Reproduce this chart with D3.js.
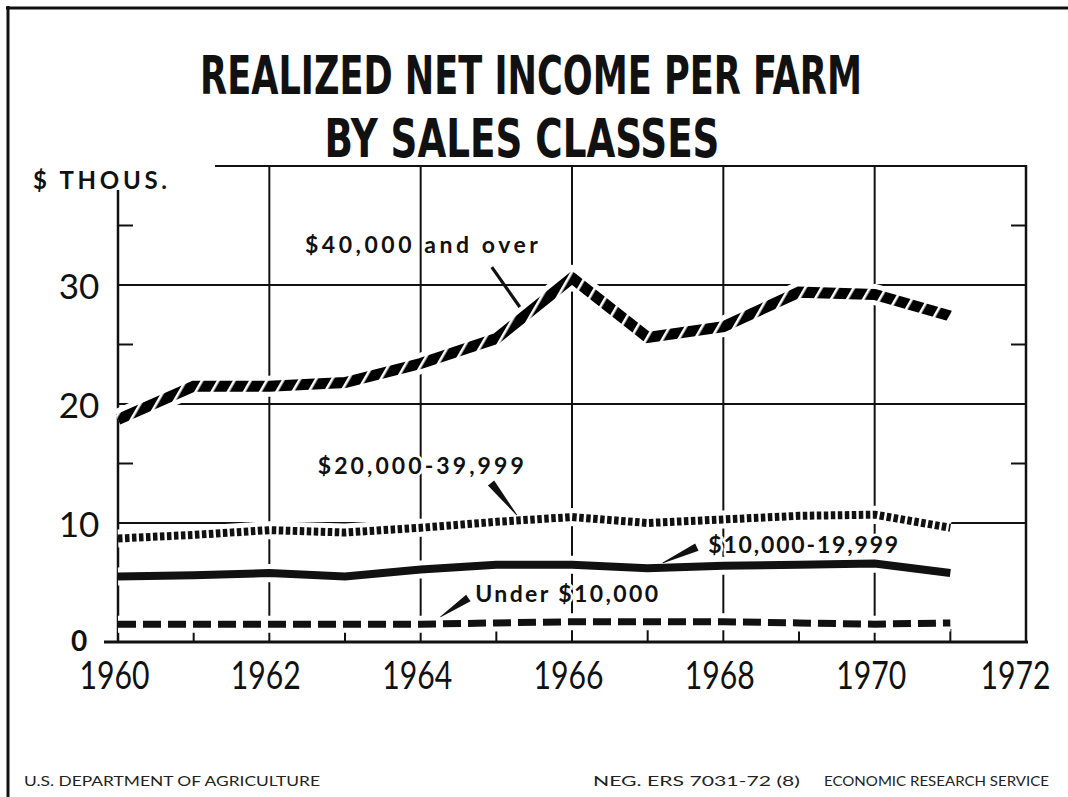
<!DOCTYPE html>
<html>
<head>
<meta charset="utf-8">
<script src="https://cdn.jsdelivr.net/npm/d3@7"></script>
<style>
  body { margin: 0; background: #fff; }
  svg { display: block; }
</style>
</head>
<body>
<div id="chart"></div>
<script>
// data ($ thousands per farm)
var years = [1960, 1961, 1962, 1963, 1964, 1965, 1966, 1967, 1968, 1969, 1970, 1971];
var over40 = [18.7, 21.5, 21.5, 21.8, 23.4, 25.5, 30.6, 25.6, 26.5, 29.4, 29.2, 27.4];
var from20to40 = [8.7, 9.0, 9.4, 9.2, 9.6, 10.1, 10.5, 10.0, 10.3, 10.6, 10.7, 9.6];
var from10to20 = [5.5, 5.6, 5.8, 5.5, 6.1, 6.5, 6.5, 6.2, 6.4, 6.5, 6.6, 5.8];
var under10 = [1.5, 1.5, 1.5, 1.5, 1.5, 1.6, 1.7, 1.7, 1.7, 1.6, 1.5, 1.6];

var yearTicks = [1960, 1962, 1964, 1966, 1968, 1970, 1972];
var oddYears = [1961, 1963, 1965, 1967, 1969, 1971];
var valueTicks = [0, 10, 20, 30];
var gridValues = [10, 20, 30];
var minorValues = [15, 25, 35];

var seriesNames = ["$40,000 and over", "$20,000-39,999", "$10,000-19,999", "Under $10,000"];
// label position and pointer (from, to) in data units
var labelYears = [1962.47, 1962.64, 1967.80, 1964.72];
var labelValues = [32.7, 14.1, 7.5, 3.36];
var pointerFrom = [[1964.94, 31.5], [1964.93, 13.36], [1967.65, 7.98], [1964.63, 3.7]];
var pointerTo = [[1965.31, 28.15], [1965.27, 10.67], [1967.2, 6.64], [1964.26, 2.1]];
var labelWidths = [233, 206, 190, 183];

var svgWidth = 1068;
var svgHeight = 797;

var xScale = d3.scaleLinear()
    .domain([1960, 1972])
    .range([118, 1026]);

var yScale = d3.scaleLinear()
    .domain([0, 40])
    .range([642, 166]);

var svg = d3.select('#chart').append('svg')
    .attr('width', svgWidth)
    .attr('height', svgHeight);

// hatch pattern for the top series
var defs = svg.append('defs');
var hatch = defs.append('pattern')
    .attr('id', 'hatch')
    .attr('patternUnits', 'userSpaceOnUse')
    .attr('width', 14)
    .attr('height', 14)
    .attr('patternTransform', 'rotate(30)');
hatch.append('rect').attr('width', 14).attr('height', 14).attr('fill', '#000');
hatch.append('rect').attr('x', 0).attr('width', 2.6).attr('height', 14).attr('fill', '#fff');

// page frame
svg.append('line').attr('x1', 6).attr('x2', svgWidth).attr('y1', 8).attr('y2', 8)
    .attr('stroke', '#111').attr('stroke-width', 3);
svg.append('line').attr('x1', 8).attr('x2', 8).attr('y1', 6).attr('y2', svgHeight)
    .attr('stroke', '#111').attr('stroke-width', 3);

// title lines, each squeezed sideways to the condensed width
var titleLines = ["REALIZED NET INCOME PER FARM", "BY SALES CLASSES"];
var titleCx = [531, 522];
var titleW = [662, 395];
var titleY = [94, 157];
titleLines.forEach(function (t, i) {
    var txt = svg.append('text')
        .attr('font-family', '"Liberation Sans Narrow", "DejaVu Sans Condensed", sans-serif')
        .attr('font-weight', 'bold')
        .attr('font-size', 54)
        .attr('text-anchor', 'middle')
        .attr('fill', '#111')
        .attr('x', 0)
        .attr('y', titleY[i])
        .text(t);
    var sx = titleW[i] / txt.node().getComputedTextLength();
    txt.attr('transform', `translate(${titleCx[i]}, 0) scale(${sx}, 1)`);
});

// unit label
svg.append('text')
    .attr('x', 33)
    .attr('y', 189)
    .attr('textLength', 134)
    .attr('lengthAdjust', 'spacing')
    .attr('font-family', 'Lato, sans-serif')
    .attr('font-weight', 'bold')
    .attr('font-size', 24)
    .attr('fill', '#111')
    .text('$ THOUS.');

var grid = svg.append('g').attr('stroke', '#111').attr('stroke-width', 2);

// horizontal grid
grid.selectAll('.hgrid').data(gridValues).enter().append('line')
    .attr('x1', xScale(1960)).attr('x2', xScale(1972))
    .attr('y1', d => yScale(d)).attr('y2', d => yScale(d));
grid.append('line')
    .attr('x1', 215).attr('x2', xScale(1972))
    .attr('y1', yScale(40)).attr('y2', yScale(40));

// vertical grid
grid.selectAll('.vgrid').data(yearTicks.slice(1, -1)).enter().append('line')
    .attr('x1', d => xScale(d)).attr('x2', d => xScale(d))
    .attr('y1', yScale(40)).attr('y2', yScale(0));

// right frame and left axis
grid.append('line')
    .attr('x1', xScale(1972)).attr('x2', xScale(1972))
    .attr('y1', yScale(40) - 1).attr('y2', yScale(0))
    .attr('stroke-width', 2.5);
grid.append('line')
    .attr('x1', xScale(1960)).attr('x2', xScale(1960))
    .attr('y1', 190).attr('y2', yScale(0))
    .attr('stroke-width', 2.5);

// minor ticks
grid.selectAll('.ltick').data(minorValues.concat([5])).enter().append('line')
    .attr('x1', xScale(1960)).attr('x2', xScale(1960) + 15)
    .attr('y1', d => yScale(d)).attr('y2', d => yScale(d));
grid.selectAll('.rtick').data(minorValues).enter().append('line')
    .attr('x1', xScale(1972) - 15).attr('x2', xScale(1972))
    .attr('y1', d => yScale(d)).attr('y2', d => yScale(d));
grid.selectAll('.btick').data(oddYears).enter().append('line')
    .attr('x1', d => xScale(d)).attr('x2', d => xScale(d))
    .attr('y1', yScale(0)).attr('y2', yScale(0) - 13);

// x axis
var xAxis = d3.axisBottom(xScale).tickValues(yearTicks).tickSize(0).tickPadding(0)
    .tickFormat(d3.format('d'));
var xg = svg.append('g')
    .attr('transform', `translate(0, ${yScale(0)})`)
    .call(xAxis);
xg.select('.domain').remove();
xg.selectAll('text')
    .attr('dy', null)
    .attr('y', 47)
    .attr('x', d => d === 1972 ? -11 : -4)
    .attr('font-family', 'Lato, sans-serif')
    .attr('font-size', 38)
    .attr('fill', '#111')
    .attr('textLength', 70)
    .attr('lengthAdjust', 'spacingAndGlyphs');
svg.append('line')
    .attr('x1', 104).attr('x2', xScale(1972) + 2)
    .attr('y1', yScale(0)).attr('y2', yScale(0))
    .attr('stroke', '#111').attr('stroke-width', 3);

// y axis labels
var yAxis = d3.axisLeft(yScale).tickValues(valueTicks).tickSize(0).tickPadding(0);
var yg = svg.append('g')
    .attr('transform', `translate(${xScale(1960)}, 0)`)
    .call(yAxis);
yg.select('.domain').remove();
yg.selectAll('text')
    .attr('text-anchor', 'middle')
    .attr('x', -39)
    .attr('dy', d => d === 0 ? '0.32em' : '0.38em')
    .attr('font-family', 'Lato, sans-serif')
    .attr('font-weight', d => d === 0 ? 'bold' : 'normal')
    .attr('font-size', d => d === 0 ? 28 : 35)
    .attr('fill', '#111');

// series lines
var series = [
    {values: over40, stroke: 'url(#hatch)', width: 11, dash: null},
    {values: from20to40, stroke: '#111', width: 8, dash: '4.5,2.5'},
    {values: from10to20, stroke: '#111', width: 8, dash: null},
    {values: under10, stroke: '#111', width: 7, dash: '18,7'}
];

var line = d3.line()
    .x((d, i) => xScale(years[i]))
    .y(d => yScale(d));

// white halos cut the grid round each line
svg.selectAll('.halo').data(series).enter().append('path')
    .attr('d', d => line(d.values))
    .attr('fill', 'none')
    .attr('stroke', '#fff')
    .attr('stroke-width', d => d.width + 10);

svg.selectAll('.series').data(series).enter().append('path')
    .attr('d', d => line(d.values))
    .attr('fill', 'none')
    .attr('stroke', d => d.stroke)
    .attr('stroke-width', d => d.width)
    .attr('stroke-dasharray', d => d.dash)
    .attr('stroke-linejoin', 'miter');

// pointers
seriesNames.forEach(function (name, i) {
    var x0 = xScale(pointerFrom[i][0]), y0 = yScale(pointerFrom[i][1]);
    var x1 = xScale(pointerTo[i][0]), y1 = yScale(pointerTo[i][1]);
    var dx = x1 - x0, dy = y1 - y0, len = Math.sqrt(dx * dx + dy * dy);
    var half = i === 0 ? 1.6 : 4;
    var nx = -dy / len * half, ny = dx / len * half;
    var tip = i === 0 ? 1.6 : 0.4;
    var tx = -dy / len * tip, ty = dx / len * tip;
    svg.append('polygon')
        .attr('points', [[x0 + nx, y0 + ny], [x1 + tx, y1 + ty], [x1 - tx, y1 - ty], [x0 - nx, y0 - ny]].join(' '))
        .attr('fill', '#111');
});

// series labels
svg.selectAll('.label').data(seriesNames).enter().append('text')
    .attr('x', (d, i) => xScale(labelYears[i]))
    .attr('y', (d, i) => yScale(labelValues[i]))
    .attr('textLength', (d, i) => labelWidths[i])
    .attr('lengthAdjust', 'spacing')
    .attr('font-family', 'Lato, sans-serif')
    .attr('font-weight', 'bold')
    .attr('font-size', 23)
    .attr('fill', '#111')
    .attr('stroke', '#fff')
    .attr('stroke-width', 5)
    .attr('paint-order', 'stroke')
    .text(d => d);

// footer
var footer = ["U.S. DEPARTMENT OF AGRICULTURE", "NEG. ERS 7031-72 (8)", "ECONOMIC RESEARCH SERVICE"];
var footerX = [24, 593, 824];
var footerW = [296, 207, 225];
svg.selectAll('.footer').data(footer).enter().append('text')
    .attr('x', (d, i) => footerX[i])
    .attr('y', 786)
    .attr('textLength', (d, i) => footerW[i])
    .attr('lengthAdjust', 'spacingAndGlyphs')
    .attr('font-family', 'Lato, sans-serif')
    .attr('font-size', 14)
    .attr('fill', '#222')
    .text(d => d);
</script>
</body>
</html>
